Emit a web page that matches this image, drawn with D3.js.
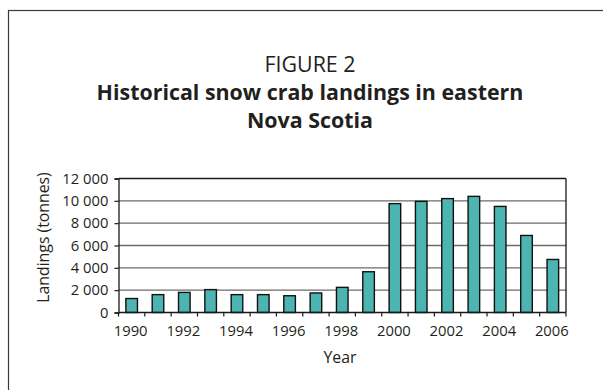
<!DOCTYPE html>
<html>
<head>
<meta charset="utf-8">
<script src="https://cdn.jsdelivr.net/npm/d3@7"></script>
<style>
  html, body { margin: 0; padding: 0; background: #fff; }
  svg { display: block; font-family: "Open Sans", "Noto Sans", sans-serif; }
</style>
</head>
<body>
<svg id="chart" width="603" height="390"></svg>
<script>
// Snow crab landings, eastern Nova Scotia (tonnes)
const years = ["1990","1991","1992","1993","1994","1995","1996","1997","1998",
               "1999","2000","2001","2002","2003","2004","2005","2006"];
const landings = [1250, 1600, 1800, 2050, 1600, 1600, 1500, 1750, 2250,
                  3650, 9750, 9950, 10200, 10400, 9500, 6900, 4750];
const yTicks = [0, 2000, 4000, 6000, 8000, 10000, 12000];
const xLabelYears = ["1990","1992","1994","1996","1998","2000","2002","2004","2006"];
const titleLines = ["FIGURE 2", "Historical snow crab landings in eastern", "Nova Scotia"];

const svg = d3.select("#chart");
const ink = "#231f20";

// frame around the figure
svg.append("rect")
  .attr("x", 8.5).attr("y", 10.5)
  .attr("width", 700).attr("height", 500)
  .attr("fill", "none").attr("stroke", "#3a3a3a").attr("stroke-width", 1.2);

// title block
svg.append("text").attr("x", 310).attr("y", 72)
  .attr("text-anchor", "middle").attr("font-size", 21.4).attr("fill", ink)
  .text(titleLines[0]);
svg.append("text").attr("x", 310).attr("y", 100)
  .attr("text-anchor", "middle").attr("font-size", 21.4).attr("font-weight", 700).attr("fill", ink)
  .text(titleLines[1]);
svg.append("text").attr("x", 310).attr("y", 127.5)
  .attr("text-anchor", "middle").attr("font-size", 21.4).attr("font-weight", 700).attr("fill", ink)
  .text(titleLines[2]);

const plot = { left: 118.5, right: 566, top: 178.5, bottom: 312.5 };
const g = svg.append("g");

const x = d3.scaleBand().domain(years).range([plot.left, plot.right]).padding(0);
const y = d3.scaleLinear().domain([0, 12000]).range([plot.bottom, plot.top]);

// horizontal gridlines
g.selectAll("line.grid")
  .data(yTicks.filter(t => t > 0 && t < 12000))
  .join("line")
  .attr("class", "grid")
  .attr("x1", plot.left).attr("x2", plot.right)
  .attr("y1", d => y(d)).attr("y2", d => y(d))
  .attr("stroke", "#6b6b6b").attr("stroke-width", 1.3);

// plot border: top and right
g.append("line").attr("x1", plot.left).attr("x2", plot.right)
  .attr("y1", y(12000)).attr("y2", y(12000))
  .attr("stroke", "#1a1a1a").attr("stroke-width", 1.3);
g.append("line").attr("x1", plot.right).attr("x2", plot.right)
  .attr("y1", plot.top).attr("y2", plot.bottom)
  .attr("stroke", "#1a1a1a").attr("stroke-width", 1.3);

// bars
const barFrac = 0.44;
g.selectAll("rect.bar")
  .data(years.map((yr, i) => ({ yr, v: landings[i] })))
  .join("rect")
  .attr("class", "bar")
  .attr("x", d => x(d.yr) + x.bandwidth() * (1 - barFrac) / 2)
  .attr("width", x.bandwidth() * barFrac)
  .attr("y", d => y(d.v))
  .attr("height", d => y(0) - y(d.v))
  .attr("fill", "#4db5b1")
  .attr("stroke", "#111").attr("stroke-width", 1.4);

// y axis
const yAxis = d3.axisLeft(y).tickValues(yTicks).tickSize(4).tickPadding(6)
  .tickFormat(d => d3.format(",")(d).replace(/,/g, " "));
const ya = svg.append("g").attr("transform", `translate(${plot.left},0)`).call(yAxis);
ya.select(".domain").attr("stroke", "#1a1a1a").attr("stroke-width", 1.3);
ya.selectAll(".tick line").attr("stroke", "#1a1a1a").attr("stroke-width", 1.2);
ya.selectAll(".tick text").attr("font-size", 14.8).attr("fill", ink)
  .attr("font-family", "\"Open Sans\", sans-serif");

// x axis: ticks at category boundaries, labels on alternate years
const xa = svg.append("g").attr("transform", `translate(0,${plot.bottom})`);
xa.append("line").attr("x1", plot.left).attr("x2", plot.right)
  .attr("stroke", "#1a1a1a").attr("stroke-width", 1.3);
const bounds = years.map(yr => x(yr)).concat([x(years[years.length - 1]) + x.bandwidth()]);
xa.selectAll("line.tk").data(bounds).join("line").attr("class", "tk")
  .attr("x1", d => d).attr("x2", d => d).attr("y1", 0).attr("y2", 4)
  .attr("stroke", "#1a1a1a").attr("stroke-width", 1.2);
xa.selectAll("text").data(xLabelYears).join("text")
  .attr("x", d => x(d) + x.bandwidth() / 2 - 1)
  .attr("y", 23.5)
  .attr("text-anchor", "middle").attr("font-size", 14.8).attr("fill", ink)
  .text(d => d);

// axis titles
svg.append("text").attr("x", 340).attr("y", 363)
  .attr("text-anchor", "middle").attr("font-size", 15.8).attr("fill", ink)
  .text("Year");
svg.append("text")
  .attr("transform", "translate(49,237.5) rotate(-90)")
  .attr("text-anchor", "middle").attr("font-size", 15.8).attr("fill", ink)
  .text("Landings (tonnes)");
</script>
</body>
</html>
